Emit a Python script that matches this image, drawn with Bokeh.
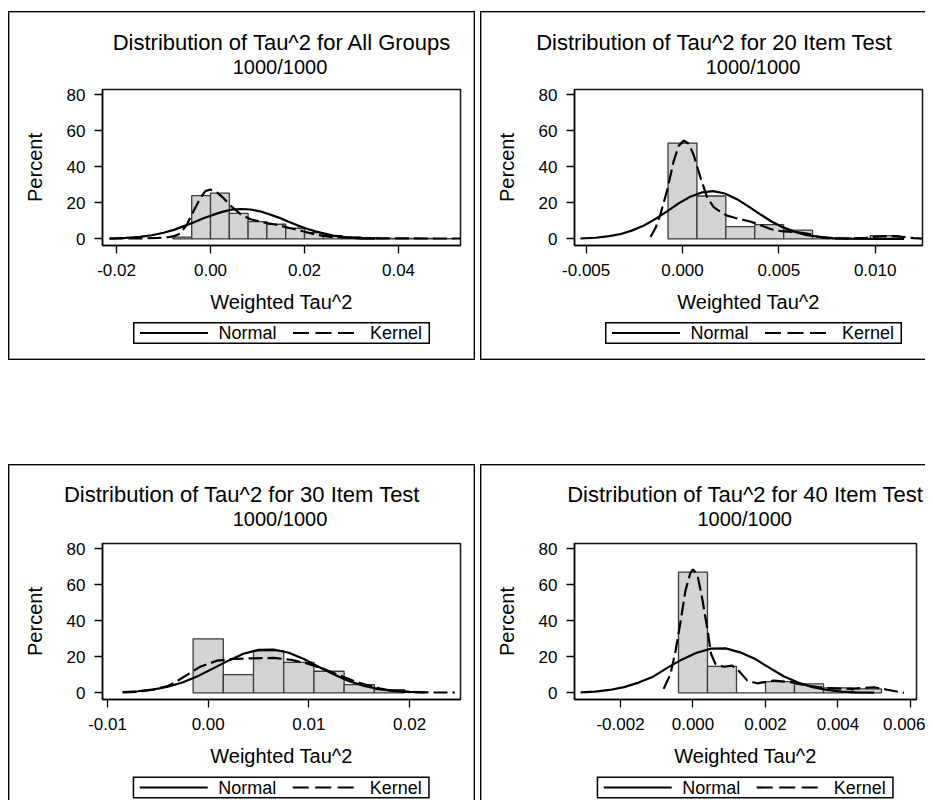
from bokeh.plotting import figure
from bokeh.layouts import column, row, Spacer
from bokeh.models import FixedTicker, Range1d, PrintfTickFormatter, Div
from bokeh.embed import file_html
from bokeh.resources import INLINE

FONT = "Liberation Sans"

subtitle = "1000/1000"
x_label = "Weighted Tau^2"
y_label = "Percent"
legend_labels = ["Normal", "Kernel"]
y_ticks = [0, 20, 40, 60, 80]
y_tick_labels = ["0", "20", "40", "60", "80"]

# ---------------- Panel 1: All Groups ----------------
all_title = "Distribution of Tau^2 for All Groups"
all_bin = 0.004
all_mid = [-0.006, -0.002, 0.002, 0.006, 0.010, 0.014, 0.018, 0.022, 0.026, 0.030, 0.034, 0.038, 0.042, 0.046, 0.050]
all_pct = [1.0, 24.0, 25.4, 14.2, 9.6, 8.1, 5.9, 3.5, 1.8, 1.1, 0.6, 0.3, 0.2, 0.2, 0.1]
all_norm_x = [-0.0215, -0.018, -0.015, -0.0125, -0.010, -0.0078, -0.0055, -0.0035, -0.0015, 0.0005, 0.0025,
              0.0045, 0.0065, 0.0085, 0.0105, 0.0125, 0.0145, 0.0165, 0.0185, 0.0205, 0.0225, 0.0245,
              0.0265, 0.029, 0.032, 0.035]
all_norm_y = [0.2, 0.5, 1.1, 2.0, 3.4, 5.0, 7.2, 9.2, 11.4, 13.3, 15.0, 16.2, 16.6, 16.3, 15.3, 13.7, 11.8,
              9.6, 7.5, 5.6, 4.0, 2.8, 1.6, 0.8, 0.3, 0.1]
all_kern_x = [-0.0215, -0.018, -0.014, -0.011, -0.009, -0.0078, -0.0064, -0.0050, -0.0036, -0.0021, -0.0011,
              0.0, 0.0014, 0.0028, 0.0043, 0.0064, 0.0085, 0.0113, 0.0142, 0.0170, 0.0199, 0.0227, 0.0255,
              0.0298, 0.035, 0.040, 0.045, 0.050, 0.0535]
all_kern_y = [0.1, 0.2, 0.3, 0.5, 0.9, 1.5, 3.0, 8.1, 15.5, 22.9, 26.5, 27.4, 25.7, 22.6, 18.3, 13.7, 10.9,
              9.1, 7.8, 5.9, 4.1, 2.2, 1.1, 0.5, 0.3, 0.3, 0.2, 0.2, 0.2]
all_xticks = [-0.02, 0.0, 0.02, 0.04]
all_xlabels = ["-0.02", "0.00", "0.02", "0.04"]
all_xrange = (-0.02298, 0.05319)

# ---------------- Panel 2: 20 Item Test ----------------
i20_title = "Distribution of Tau^2 for 20 Item Test"
i20_bin = 0.0015
i20_mid = [0.0, 0.0015, 0.003, 0.0045, 0.006, 0.0075, 0.009, 0.0105]
i20_pct = [53.2, 23.8, 6.8, 7.9, 4.8, 0.0, 0.0, 1.8]
i20_norm_x = [-0.0053, -0.0045, -0.0038, -0.0032, -0.0026, -0.0020, -0.0014, -0.0008, -0.0002, 0.0004, 0.0010,
              0.0016, 0.0022, 0.0028, 0.0034, 0.0040, 0.0046, 0.0052, 0.0058, 0.0064, 0.0070, 0.0078, 0.0088,
              0.0100, 0.0115]
i20_norm_y = [0.2, 0.6, 1.5, 2.7, 4.7, 7.4, 11.1, 15.3, 19.7, 23.4, 25.8, 26.5, 25.2, 22.2, 18.2, 13.9, 9.8,
              6.5, 4.0, 2.2, 1.2, 0.4, 0.1, 0.0, 0.0]
i20_kern_x = [-0.00166, -0.00140, -0.00114, -0.00080, -0.00045, -0.00019, 0.00007, 0.00033, 0.00059, 0.00093,
              0.00128, 0.00162, 0.00200, 0.00232, 0.00275, 0.00318, 0.00355, 0.00388, 0.00420, 0.00457, 0.00490,
              0.00526, 0.0057, 0.0062, 0.0066, 0.0070, 0.0075, 0.0085, 0.0095, 0.0102, 0.0107, 0.0113, 0.0120,
              0.0125]
i20_kern_y = [1.0, 6.0, 13.9, 26.8, 43.5, 51.8, 54.6, 52.8, 46.3, 34.2, 23.1, 17.6, 14.8, 12.9, 11.6, 10.5,
              9.5, 8.3, 7.0, 5.5, 4.6, 4.2, 3.8, 3.4, 2.6, 1.3, 0.4, 0.1, 0.5, 1.3, 1.6, 1.2, 0.4, 0.1]
i20_xticks = [-0.005, 0.0, 0.005, 0.010]
i20_xlabels = ["-0.005", "0.000", "0.005", "0.010"]
i20_xrange = (-0.005605, 0.012457)

# ---------------- Panel 3: 30 Item Test ----------------
i30_title = "Distribution of Tau^2 for 30 Item Test"
i30_bin = 0.003
i30_mid = [0.0, 0.003, 0.006, 0.009, 0.012, 0.015, 0.018]
i30_pct = [30.0, 10.1, 23.4, 16.9, 12.0, 4.6, 1.8]
i30_norm_x = [-0.0085, -0.0070, -0.0055, -0.0040, -0.0025, -0.0010, 0.0005, 0.0020, 0.0035, 0.0050, 0.0065,
              0.0080, 0.0095, 0.0110, 0.0125, 0.0140, 0.0155, 0.0170, 0.0185, 0.0200, 0.0215]
i30_norm_y = [0.4, 0.9, 1.8, 3.4, 5.9, 9.4, 13.6, 17.9, 21.7, 23.9, 24.1, 22.3, 18.8, 14.4, 10.2, 6.5, 3.8,
              2.1, 1.0, 0.5, 0.2]
i30_kern_x = [-0.0085, -0.0070, -0.0055, -0.0040, -0.0031, -0.0021, -0.0008, 0.0009, 0.0025, 0.0045, 0.0065,
              0.0082, 0.0098, 0.0115, 0.0131, 0.0148, 0.0165, 0.0181, 0.0201, 0.0220, 0.0245]
i30_kern_y = [0.2, 0.6, 1.8, 3.8, 6.5, 10.0, 14.5, 17.9, 18.8, 19.2, 19.4, 18.4, 16.4, 13.3, 9.6, 5.9, 3.1,
              1.3, 0.4, 0.2, 0.2]
i30_xticks = [-0.01, 0.0, 0.01, 0.02]
i30_xlabels = ["-0.01", "0.00", "0.01", "0.02"]
i30_xrange = (-0.0105, 0.02506)

# ---------------- Panel 4: 40 Item Test ----------------
i40_title = "Distribution of Tau^2 for 40 Item Test"
i40_bin = 0.0008
i40_mid = [0.0, 0.0008, 0.0016, 0.0024, 0.0032, 0.0040, 0.0048]
i40_pct = [67.1, 14.7, 0.0, 6.2, 5.0, 2.8, 2.2]
i40_norm_x = [-0.0031, -0.0027, -0.0023, -0.0019, -0.0015, -0.0011, -0.0007, -0.0003, 0.0001, 0.0005, 0.0009,
              0.0013, 0.0017, 0.0021, 0.0025, 0.0029, 0.0033, 0.0037, 0.0041, 0.0045, 0.0050]
i40_norm_y = [0.3, 0.7, 1.6, 3.2, 5.7, 9.0, 14.0, 18.6, 22.3, 24.6, 24.7, 22.5, 19.0, 14.0, 9.2, 5.7, 3.2, 1.6,
              0.7, 0.3, 0.1]
i40_kern_x = [-0.00081, -0.00062, -0.00048, -0.00034, -0.00021, -0.00007, 0.0, 0.00012, 0.00025, 0.00039,
              0.00050, 0.00062, 0.00085, 0.00108, 0.00126, 0.00150, 0.00177, 0.00223, 0.00269, 0.00315, 0.00370,
              0.00434, 0.00499, 0.00536, 0.00582]
i40_kern_y = [2.2, 10.5, 23.4, 40.0, 56.6, 66.7, 68.6, 65.8, 52.9, 36.3, 21.6, 16.0, 14.5, 15.1, 12.3, 6.8, 5.3,
              6.8, 5.9, 4.0, 2.6, 2.2, 3.1, 1.7, 0.0]
i40_xticks = [-0.002, 0.0, 0.002, 0.004, 0.006]
i40_xlabels = ["-0.002", "0.000", "0.002", "0.004", "0.006"]
i40_xrange = (-0.003269, 0.006166)

Y_RANGE = (-3.7, 83.0)
FRAME_H = 156
FIG_TOP = 12
FIG_BOTTOM = 72
CURVE_DASH = "14 5"


def title_div(width, height, title, tpos, spos):
    html = (
        f'<svg width="{width}" height="{height}" style="display:block;overflow:visible">'
        f'<text x="{tpos[0]}" y="{tpos[1]}" text-anchor="middle" dominant-baseline="central" '
        f'font-family="{FONT}" font-size="22" fill="black">{title}</text>'
        f'<text x="{spos[0]}" y="{spos[1]}" text-anchor="middle" dominant-baseline="central" '
        f'font-family="{FONT}" font-size="20" fill="black">{subtitle}</text>'
        f'</svg>'
    )
    return Div(text=html, width=width, height=height, margin=0)


def legend_div(width, height, left, top):
    bw, bh = 297, 22
    cy = bh / 2
    html = (
        f'<svg width="{width}" height="{height}" style="display:block;overflow:visible">'
        f'<g transform="translate({left},{top})">'
        f'<rect x="0.75" y="0.75" width="{bw - 1.5}" height="{bh - 1.5}" fill="white" '
        f'stroke="black" stroke-width="1.5"/>'
        f'<line x1="7" y1="{cy}" x2="75" y2="{cy}" stroke="black" stroke-width="2.2"/>'
        f'<text x="85.5" y="{cy}" dominant-baseline="central" font-family="{FONT}" '
        f'font-size="18" fill="black">{legend_labels[0]}</text>'
        f'<line x1="160" y1="{cy}" x2="221" y2="{cy}" stroke="black" stroke-width="2.2" '
        f'stroke-dasharray="16 6.5"/>'
        f'<text x="237" y="{cy}" dominant-baseline="central" font-family="{FONT}" '
        f'font-size="18" fill="black">{legend_labels[1]}</text>'
        f'</g></svg>'
    )
    return Div(text=html, width=width, height=height, margin=0)


def make_fig(mids, pct, binw, nx, ny, kx, ky, xticks, xlabels, xrange, fmt, width, mb_left, mb_right):
    p = figure(width=width, height=FIG_TOP + FRAME_H + FIG_BOTTOM,
               x_range=Range1d(*xrange), y_range=Range1d(*Y_RANGE),
               output_backend="svg", toolbar_location=None,
               min_border_left=mb_left, min_border_right=mb_right,
               min_border_top=FIG_TOP, min_border_bottom=FIG_BOTTOM)
    p.border_fill_alpha = 0
    p.background_fill_color = "white"
    p.outline_line_color = "#111111"
    p.outline_line_width = 1.5
    p.xgrid.visible = False
    p.ygrid.visible = False

    p.vbar(x=mids, width=binw, top=pct, bottom=0, fill_color="#d3d3d3",
           line_color="#3a3a3a", line_width=1.3)
    p.line(nx, ny, line_color="black", line_width=2.2)
    p.line(kx, ky, line_color="black", line_width=2.2, line_dash=CURVE_DASH)

    for ax in (p.xaxis[0], p.yaxis[0]):
        ax.axis_line_color = "black"
        ax.axis_line_width = 1.5
        ax.major_tick_line_color = "black"
        ax.major_tick_line_width = 1.3
        ax.major_tick_out = 8
        ax.major_tick_in = 0
        ax.minor_tick_line_color = None
        ax.major_label_text_font = FONT
        ax.major_label_text_font_size = "17px"
        ax.major_label_text_color = "black"
        ax.axis_label_text_font = FONT
        ax.axis_label_text_font_size = "20px"
        ax.axis_label_text_font_style = "normal"
        ax.axis_label_text_color = "black"

    xa = p.xaxis[0]
    xa.ticker = FixedTicker(ticks=xticks)
    xa.formatter = PrintfTickFormatter(format=fmt)
    xa.major_label_overrides = dict(zip(xticks, xlabels))
    xa.major_label_standoff = 10
    xa.axis_label = x_label
    xa.axis_label_standoff = 12

    ya = p.yaxis[0]
    ya.ticker = FixedTicker(ticks=y_ticks)
    ya.major_label_overrides = dict(zip(y_ticks, y_tick_labels))
    ya.major_label_standoff = 9
    ya.axis_label = y_label
    ya.axis_label_standoff = 18
    return p


def make_panel(fig, width, top_h, bottom_h, title, tpos, spos, lpos, shadow):
    return column(title_div(width, top_h, title, tpos, spos), fig,
                  legend_div(width, bottom_h, lpos[0], lpos[1]),
                  styles={"box-shadow": shadow})


SH_ALL = "inset 0 0 0 1px #000, inset 0 0 0 2px #a0a0a0"
SH_NO_RIGHT = "inset 1px 1px 0 0 #000, inset 0 -1px 0 0 #000, inset 2px 2px 0 0 #a0a0a0, inset 0 -2px 0 0 #a0a0a0"
SH_NO_BOTTOM = "inset 1px 1px 0 0 #000, inset -1px 0 0 0 #000, inset 2px 2px 0 0 #a0a0a0, inset -2px 0 0 0 #a0a0a0"
SH_LEFT_TOP = "inset 1px 1px 0 0 #000, inset 2px 2px 0 0 #a0a0a0"

f1 = make_fig(all_mid, all_pct, all_bin, all_norm_x, all_norm_y, all_kern_x, all_kern_y,
              all_xticks, all_xlabels, all_xrange, "%.2f", 467, 94, 15)
f2 = make_fig(i20_mid, i20_pct, i20_bin, i20_norm_x, i20_norm_y, i20_kern_x, i20_kern_y,
              i20_xticks, i20_xlabels, i20_xrange, "%.3f", 445, 94, 3)
f3 = make_fig(i30_mid, i30_pct, i30_bin, i30_norm_x, i30_norm_y, i30_kern_x, i30_kern_y,
              i30_xticks, i30_xlabels, i30_xrange, "%.2f", 467, 94, 15)
f4 = make_fig(i40_mid, i40_pct, i40_bin, i40_norm_x, i40_norm_y, i40_kern_x, i40_kern_y,
              i40_xticks, i40_xlabels, i40_xrange, "%.3f", 445, 94, 9)

panel1 = make_panel(f1, 467, 66, 43, all_title, (273.5, 31), (272, 56), (125, 5), SH_ALL)
panel2 = make_panel(f2, 445, 66, 43, i20_title, (234, 31), (273, 56), (125, 5), SH_NO_RIGHT)
panel3 = make_panel(f3, 467, 67, 29, i30_title, (233.7, 30.3), (272, 55), (124.7, 5.5), SH_NO_BOTTOM)
panel4 = make_panel(f4, 445, 67, 29, i40_title, (265, 30.3), (264.7, 55), (116.7, 5.5), SH_LEFT_TOP)

layout = column(Spacer(width=10, height=11),
                row(Spacer(width=8, height=10), panel1, Spacer(width=5, height=10), panel2),
                Spacer(width=10, height=104),
                row(Spacer(width=8, height=10), panel3, Spacer(width=5, height=10), panel4))

open("out.html", "w").write(file_html(layout, INLINE))
